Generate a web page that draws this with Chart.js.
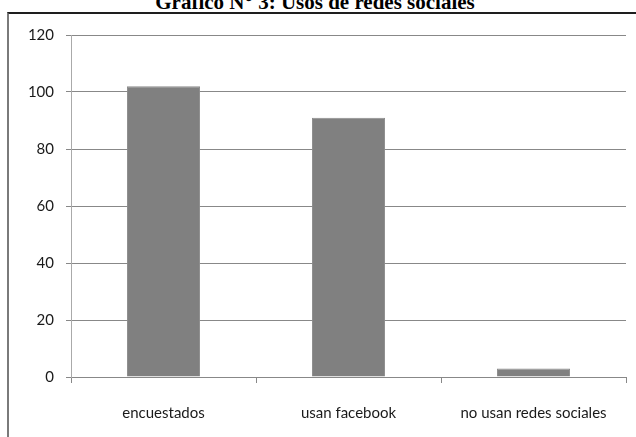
<!DOCTYPE html>
<html>
<head>
<meta charset="utf-8">
<script src="https://cdn.jsdelivr.net/npm/chart.js@4/dist/chart.umd.min.js"></script>
<style>
	body { margin: 0; background: #fff; overflow: hidden; }
	#wrap { position: relative; width: 636px; height: 437px; overflow: hidden; }
	#frame {
		position: absolute; left: 7px; top: 12px; width: 700px; height: 500px;
		border-top: 2px solid #1e1e1e; border-left: 2px solid #7a7a7a;
	}
	#titulo {
		position: absolute; left: 0; width: 630px; top: -9px; text-align: center;
		font: bold 21px 'Liberation Serif', serif; color: #000; line-height: 22px;
	}
	#dashboard-chart { position: absolute; left: 0; top: 0; }
</style>
</head>
<body>
<div id="wrap">
	<div id="titulo">Gráfico N° 3: Usos de redes sociales</div>
	<div id="frame"></div>
	<canvas id="dashboard-chart" width="636" height="437"></canvas>
</div>
<script>
const categorias = ['encuestados', 'usan facebook', 'no usan redes sociales']
const valores = [102, 91, 3]
const yTicks = [0, 20, 40, 60, 80, 100, 120]

function getRedesChart() {
	const chart = document.getElementById('dashboard-chart')
	new Chart(chart, {
		type: 'bar',
		data: {
			labels: categorias,
			datasets: [
				{
					data: valores,
					backgroundColor: '#808080',
					borderColor: '#8c8c8c',
					borderWidth: 1,
					barPercentage: 0.395,
					categoryPercentage: 1,
				},
			],
		},
		options: {
			responsive: false,
			animation: false,
			layout: { padding: { top: 35, right: 10, bottom: 0, left: 0 } },
			plugins: {
				legend: { display: false },
				tooltip: { enabled: false },
			},
			scales: {
				x: {
					afterFit: scale => { scale.height = 60 },
					grid: {
						offset: true,
						drawOnChartArea: false,
						color: '#888',
						tickLength: 6,
					},
					border: { color: '#888' },
					ticks: {
						color: '#1a1a1a',
						padding: 21,
						font: { family: 'Lato', size: 15 },
					},
				},
				y: {
					min: 0,
					max: 120,
					afterFit: scale => { scale.width = 71 },
					afterBuildTicks: scale => { scale.ticks = yTicks.map(v => ({ value: v })) },
					grid: { color: '#888', tickLength: 5 },
					border: { color: '#aaa' },
					ticks: {
						color: '#1a1a1a',
						padding: 12,
						font: { family: 'Lato', size: 15 },
					},
				},
			},
		},
	})
}
getRedesChart()
</script>
</body>
</html>
